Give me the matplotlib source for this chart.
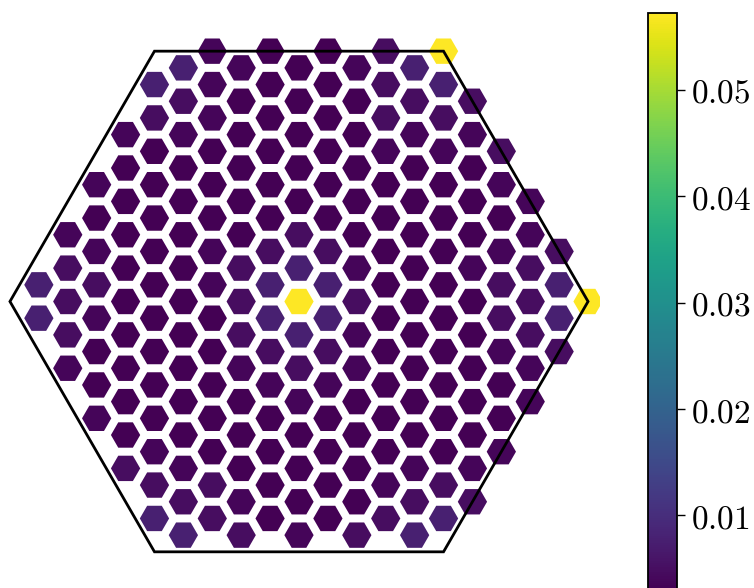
import numpy as np
import matplotlib
matplotlib.use("Agg")
import matplotlib.pyplot as plt
from matplotlib.collections import PolyCollection
from matplotlib.patches import Polygon

plt.rcParams["mathtext.fontset"] = "cm"

# Site values per lattice column (left to right), listed from top to bottom.
col_m9 = [0.0078, 0.0078]
col_m8 = [0.0037, 0.0048, 0.0048, 0.0048, 0.0037]
col_m7 = [0.0037, 0.0030, 0.0037, 0.0048, 0.0037, 0.0030, 0.0030, 0.0037]
col_m6 = [0.0037, 0.0030, 0.0030, 0.0030, 0.0030, 0.0030, 0.0030, 0.0030,
          0.0030, 0.0030, 0.0048]
col_m5 = [0.0078, 0.0048, 0.0030, 0.0030, 0.0030, 0.0030, 0.0030, 0.0030,
          0.0030, 0.0030, 0.0030, 0.0037, 0.0048, 0.0078]
col_m4 = [0.0078, 0.0048, 0.0037, 0.0030, 0.0030, 0.0030, 0.0030, 0.0030,
          0.0030, 0.0030, 0.0030, 0.0030, 0.0037, 0.0048, 0.0078]
col_m3 = [0.0037, 0.0037, 0.0037, 0.0030, 0.0030, 0.0030, 0.0037, 0.0037,
          0.0030, 0.0030, 0.0030, 0.0030, 0.0030, 0.0048, 0.0048]
col_m2 = [0.0037, 0.0030, 0.0030, 0.0030, 0.0030, 0.0030, 0.0048, 0.0048,
          0.0048, 0.0037, 0.0030, 0.0030, 0.0030, 0.0037, 0.0048]
col_m1 = [0.0030, 0.0030, 0.0030, 0.0030, 0.0030, 0.0030, 0.0048, 0.0078,
          0.0078, 0.0048, 0.0037, 0.0030, 0.0030, 0.0030, 0.0030]
col_0 = [0.0030, 0.0030, 0.0030, 0.0030, 0.0030, 0.0048, 0.0078, 0.0572,
         0.0078, 0.0048, 0.0037, 0.0030, 0.0030, 0.0030, 0.0037]
col_1 = [0.0030, 0.0030, 0.0030, 0.0030, 0.0030, 0.0030, 0.0048, 0.0078,
         0.0078, 0.0048, 0.0037, 0.0030, 0.0030, 0.0030, 0.0030]
col_2 = [0.0037, 0.0030, 0.0030, 0.0030, 0.0030, 0.0030, 0.0037, 0.0048,
         0.0037, 0.0037, 0.0030, 0.0030, 0.0030, 0.0030, 0.0048]
col_3 = [0.0048, 0.0048, 0.0048, 0.0037, 0.0030, 0.0030, 0.0030, 0.0030,
         0.0030, 0.0030, 0.0030, 0.0030, 0.0030, 0.0037, 0.0048]
col_4 = [0.0078, 0.0048, 0.0037, 0.0030, 0.0030, 0.0030, 0.0030, 0.0030,
         0.0030, 0.0030, 0.0030, 0.0030, 0.0037, 0.0048, 0.0078]
col_5 = [0.0572, 0.0078, 0.0048, 0.0037, 0.0030, 0.0030, 0.0030, 0.0030,
         0.0030, 0.0030, 0.0030, 0.0030, 0.0030, 0.0048, 0.0078]
col_6 = [0.0048, 0.0037, 0.0030, 0.0030, 0.0030, 0.0037, 0.0030, 0.0030,
         0.0030, 0.0030, 0.0030, 0.0037, 0.0048]
col_7 = [0.0048, 0.0037, 0.0030, 0.0037, 0.0048, 0.0048, 0.0037, 0.0030,
         0.0030, 0.0037]
col_8 = [0.0037, 0.0037, 0.0048, 0.0048, 0.0048, 0.0037, 0.0037]
col_9 = [0.0048, 0.0078, 0.0078, 0.0048]
col_10 = [0.0572]

column_values = {
    -9: col_m9, -8: col_m8, -7: col_m7, -6: col_m6, -5: col_m5,
    -4: col_m4, -3: col_m3, -2: col_m2, -1: col_m1, 0: col_0,
    1: col_1, 2: col_2, 3: col_3, 4: col_4, 5: col_5,
    6: col_6, 7: col_7, 8: col_8, 9: col_9, 10: col_10,
}

cbar_ticks = [0.01, 0.02, 0.03, 0.04, 0.05]

# Supercell: flat-top hexagon, circumradius L (in units of the site hexagon radius)
L = 15.0
SQ3 = np.sqrt(3.0)
EPS = 1e-9


def in_cell(c, yu):
    """Sites inside the periodic supercell (one copy of each boundary site)."""
    bound = 7.5 if abs(c) <= 5 else 1.5 * (10 - abs(c))
    if abs(yu) < bound - EPS:
        return True
    if abs(abs(yu) - bound) > EPS:
        return False
    if abs(c) <= 5 and abs(abs(yu) - 7.5) < EPS:
        return yu < 0 and c > -5
    return c > 0


centers, values = [], []
for c, vals in column_values.items():
    start = -7.5 if c % 2 else -7.0
    rows = [yu for yu in np.arange(start, 7.51, 1.0) if in_cell(c, yu)]
    assert len(rows) == len(vals), (c, len(rows), len(vals))
    for yu, v in zip(rows, vals):
        centers.append((1.5 * c, -SQ3 * yu))
        values.append(v)
centers = np.array(centers)
values = np.array(values)

r_site = 0.76
ang = np.deg2rad(np.arange(0, 360, 60))
hex_shape = np.column_stack([np.cos(ang), np.sin(ang)]) * r_site
verts = [hex_shape + p for p in centers]

W, H = 754, 588
fig = plt.figure(figsize=(W / 100, H / 100), dpi=100)
fig.patch.set_facecolor("white")

scale = 19.27          # pixels per lattice unit
cx, cy = 299.0, 301.5  # pixel position of the cell centre
ax_w = 600
ax = fig.add_axes([0, 0, ax_w / W, 1])
ax.set_xlim(-cx / scale, (ax_w - cx) / scale)
ax.set_ylim(-(H - cy) / scale, cy / scale)
ax.axis("off")

pc = PolyCollection(verts, array=values, cmap="viridis", edgecolors="none",
                    linewidths=0)
pc.set_clim(values.min(), values.max())
ax.add_collection(pc)

outline = np.column_stack([np.cos(ang), np.sin(ang)]) * L
ax.add_patch(Polygon(outline, closed=True, fill=False, ec="black", lw=2.0,
                     joinstyle="miter", zorder=3))

cax = fig.add_axes([648 / W, (H - 590) / H, 29 / W, 577 / H])
cb = fig.colorbar(pc, cax=cax)
cb.set_ticks(cbar_ticks)
cb.set_ticklabels([f"${t:.2f}$" for t in cbar_ticks])
cb.outline.set_linewidth(1.3)
cax.tick_params(length=6, width=1.0, labelsize=24, pad=4)

fig.savefig("out.png", dpi=100)
